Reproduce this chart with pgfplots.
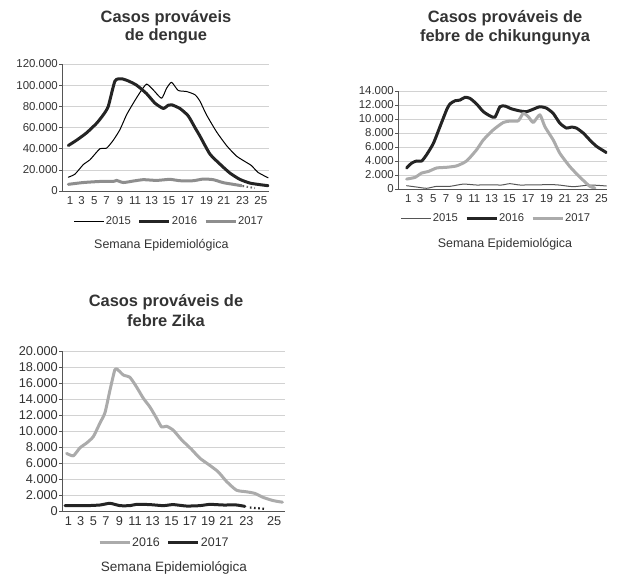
\documentclass[border=0pt]{standalone}
\usepackage{fontspec}
\setmainfont{Liberation Sans}
\usepackage{pgfplots}
\pgfplotsset{compat=1.18}

\definecolor{txt}{HTML}{333333}
\definecolor{ax}{HTML}{555555}
\definecolor{gridc}{HTML}{D2D2D2}
\definecolor{dk}{HTML}{242424}
\definecolor{md}{HTML}{8E8E8E}
\definecolor{lt}{HTML}{ABABAB}
\definecolor{thin}{HTML}{808080}
\definecolor{thindk}{HTML}{555555}

\pgfplotsset{
  base/.style={
    scale only axis,
    anchor=south west,
    axis lines=left,
    axis line style={-, draw=ax, line width=0.8bp},
    ymajorgrids,
    grid style={draw=gridc, line width=0.6bp},
    tick align=outside,
    major tick length=3bp,
    ytick style={draw=ax, line width=0.6bp},
    xtick style={draw=none},
    ymin=0,
    scaled y ticks=false,
    /pgf/number format/assume math mode=true,
    /pgf/number format/fixed,
    /pgf/number format/1000 sep={.},
    yticklabel style={inner sep=1bp, text=txt},
    xticklabel style={inner sep=1bp, yshift=-1.5bp, text=txt},
    xticklabels={1,3,5,7,9,11,13,15,17,19,21,23,25},
    legend style={draw=none, fill=none, anchor=center, text=txt,
      nodes={inner sep=1bp},
      /tikz/every even column/.append style={column sep=6bp}},
    legend columns=3,
    legend image code/.code={\draw[##1, line cap=butt] (0bp,0bp) -- (30bp,0bp);},
    every axis plot/.append style={line join=round, line cap=round, smooth, tension=0.35},
    xlabel style={text=txt},
  },
  small/.style={
    yticklabel style={font=\fontsize{11.5}{13}\selectfont},
    xticklabel style={font=\fontsize{11.5}{13}\selectfont},
    legend style={font=\fontsize{11.3}{13}\selectfont},
    xlabel style={font=\fontsize{12.5}{14}\selectfont},
  },
  big/.style={
    yticklabel style={font=\fontsize{12.8}{14}\selectfont},
    xticklabel style={font=\fontsize{12.8}{14}\selectfont},
    legend style={font=\fontsize{12.5}{14}\selectfont},
    xlabel style={font=\fontsize{13.6}{16}\selectfont},
  },
}

\begin{document}
\begin{tikzpicture}
\useasboundingbox (0,0) rectangle (621bp,575bp);

% ---------- titles ----------
\begin{scope}[every node/.style={font=\bfseries\fontsize{16.5}{18}\selectfont, text=txt, anchor=base}]
\node at (166bp,552bp) {Casos prováveis};
\node at (166bp,534bp) {de dengue};
\node at (505bp,552bp) {Casos prováveis de};
\node at (505bp,533.5bp) {febre de chikungunya};
\node at (166bp,268bp) {Casos prováveis de};
\node at (166bp,248bp) {febre Zika};
\end{scope}

% ---------- Dengue ----------
\begin{axis}[base, small,
  at={(62bp,384bp)}, width=207bp, height=127bp,
  xmin=0, xmax=25.9, ymax=120000,
  ytick={0,20000,40000,60000,80000,100000,120000},
  xtick={1,2.46,4.04,5.59,7.25,9.13,11.21,13.38,15.71,18.09,20.25,22.59,24.88},
  legend style={at={(0.517,-0.242)}},
  xlabel={Semana Epidemiológica},
  xlabel style={at={(axis description cs:0.48,-0.425)}, anchor=center},
]
\addplot[thin, line width=1bp] coordinates {
(0.79,13000) (1.63,16000) (2.67,25000) (3.5,29500) (4.75,40000) (5.58,40500)
(6.42,48000) (7.25,58000) (8.08,72000) (8.92,83000) (9.75,93000) (10.58,101000)
(11.42,95500) (12.46,87600) (13.08,97000) (13.71,102700) (14.54,95000) (15.58,94000)
(16.63,91000) (17.25,85000) (18.08,72000) (19.33,56000) (20.58,43000) (21.83,33000)
(23.08,27000) (23.71,24000) (24.54,17500) (25.79,12500)};
\addlegendentry{2015}
\addplot[dk, line width=3bp] coordinates {
(0.79,43000) (1.83,48000) (3.08,55000) (4.33,64000) (5.17,72000) (5.79,80000)
(6.63,104000) (7.46,106000) (8.29,104000) (9.33,100000) (10.58,92000) (11.63,83000)
(12.67,78000) (13.29,81000) (13.71,81500) (14.75,78000) (15.79,71000) (16.63,60000)
(17.25,52000) (18.5,35000) (19.75,25500) (21,17000) (22.25,11000) (23.5,7500)
(24.75,6000) (25.79,5000)};
\addlegendentry{2016}
\addplot[md, line width=3bp] coordinates {
(0.79,6300) (2.67,8000) (4.75,9000) (6.42,9000) (6.83,10000) (7.67,8000)
(8.92,9400) (10.17,10700) (11.83,10000) (13.5,11000) (14.75,9700) (16.42,9700)
(17.67,11300) (18.92,10700) (20.17,7900) (21.42,6300) (22.46,5000)};
\addlegendentry{2017}
\addplot[black!60, line width=2bp, line cap=butt, dash pattern=on 1.5bp off 2.5bp, forget plot] coordinates {
(22.6,4700) (24.13,2800)};
\end{axis}

% ---------- Chikungunya ----------
\begin{axis}[base, small,
  at={(398bp,386bp)}, width=209bp, height=98bp,
  xmin=0, xmax=26.15, ymax=14000,
  ytick={0,2000,4000,6000,8000,10000,12000,14000},
  xtick={1.29,2.75,4.41,6.0,7.67,9.54,11.71,13.92,16.29,18.58,20.88,23.08,25.46},
  legend style={at={(0.469,-0.299)}},
  xlabel={Semana Epidemiológica},
  xlabel style={at={(axis description cs:0.512,-0.564)}, anchor=center},
]
\addplot[thindk, line width=1bp] coordinates {
(1.08,470) (2.33,280) (3.58,100) (4.83,380) (6.5,380) (8.17,700) (9.83,570)
(11.5,600) (12.96,570) (14.0,760) (15.25,570) (17.33,600) (19.83,600)
(21.92,330) (24.0,570) (26.08,430)};
\addlegendentry{2015}
\addplot[dk, line width=3bp] coordinates {
(1.08,3000) (1.71,3700) (2.33,4000) (2.96,4000) (3.58,4900) (4.42,6500) (5.25,8900)
(6.08,11300) (6.5,12150) (7.13,12600) (7.75,12700) (8.38,13100) (9.0,12950)
(9.83,12150) (10.67,11050) (11.5,10450) (12.13,10250) (12.75,11750) (13.38,11850)
(14.21,11450) (15.25,11150) (16.08,11050) (16.92,11400) (17.75,11750) (18.58,11550)
(19.42,10800) (20.25,9400) (21.08,8700) (21.71,8850) (22.33,8700) (23.17,8000)
(24.0,7000) (24.83,6100) (26.08,5200)};
\addlegendentry{2016}
\addplot[lt, line width=3bp] coordinates {
(1.08,1420) (2.13,1660) (2.96,2280) (3.79,2500) (4.83,3000) (6.08,3100) (7.33,3300)
(8.58,4000) (9.83,5600) (10.67,7000) (11.92,8450) (13.17,9500) (14.0,9700)
(15.04,9730) (15.67,10800) (16.29,10350) (16.92,9500) (17.75,10600) (18.38,8900)
(19.42,7000) (20.25,5100) (21.5,3200) (22.75,1700) (24.0,380) (24.63,150)};
\addlegendentry{2017}
\end{axis}

% ---------- Zika ----------
\begin{axis}[base, big,
  at={(62bp,64bp)}, width=223bp, height=160bp,
  xmin=0, xmax=27.9, ymax=20000,
  ytick={0,2000,4000,6000,8000,10000,12000,14000,16000,18000,20000},
  xtick={0.79,2.33,3.92,5.5,7.17,9.13,11.33,13.71,16.0,18.29,20.58,23.08,26.55},
  legend style={at={(0.457,-0.198)}},
  legend columns=2,
  xlabel={Semana Epidemiológica},
  xlabel style={at={(axis description cs:0.502,-0.358)}, anchor=center},
]
\addplot[lt, line width=3bp] coordinates {
(0.58,7200) (1.42,6900) (2.25,7900) (3.08,8500) (3.92,9300) (4.75,11000) (5.38,12300)
(6.0,15100) (6.63,17700) (7.04,17600) (7.67,17000) (8.5,16700) (9.33,15500)
(10.17,14100) (11.0,13000) (11.83,11600) (12.46,10500) (13.08,10600) (13.92,10100)
(14.96,8900) (16.21,7700) (17.25,6600) (18.5,5700) (19.54,4900) (20.58,3700)
(21.83,2600) (23.08,2400) (24.13,2200) (25.17,1700) (26.42,1300) (27.58,1100)};
\addlegendentry{2016}
\addplot[dk, line width=3bp] coordinates {
(0.38,670) (3.08,670) (4.75,750) (6.0,960) (7.25,670) (8.5,670) (9.33,830)
(11.0,800) (12.67,670) (13.92,800) (15.58,620) (17.25,670) (18.5,830)
(20.17,750) (21.83,750) (22.88,580)};
\addlegendentry{2017}
\addplot[dk, line width=2.2bp, line cap=butt, dash pattern=on 1.6bp off 2.6bp, forget plot] coordinates {
(23.5,430) (25.58,250)};
\end{axis}
\end{tikzpicture}
\end{document}
